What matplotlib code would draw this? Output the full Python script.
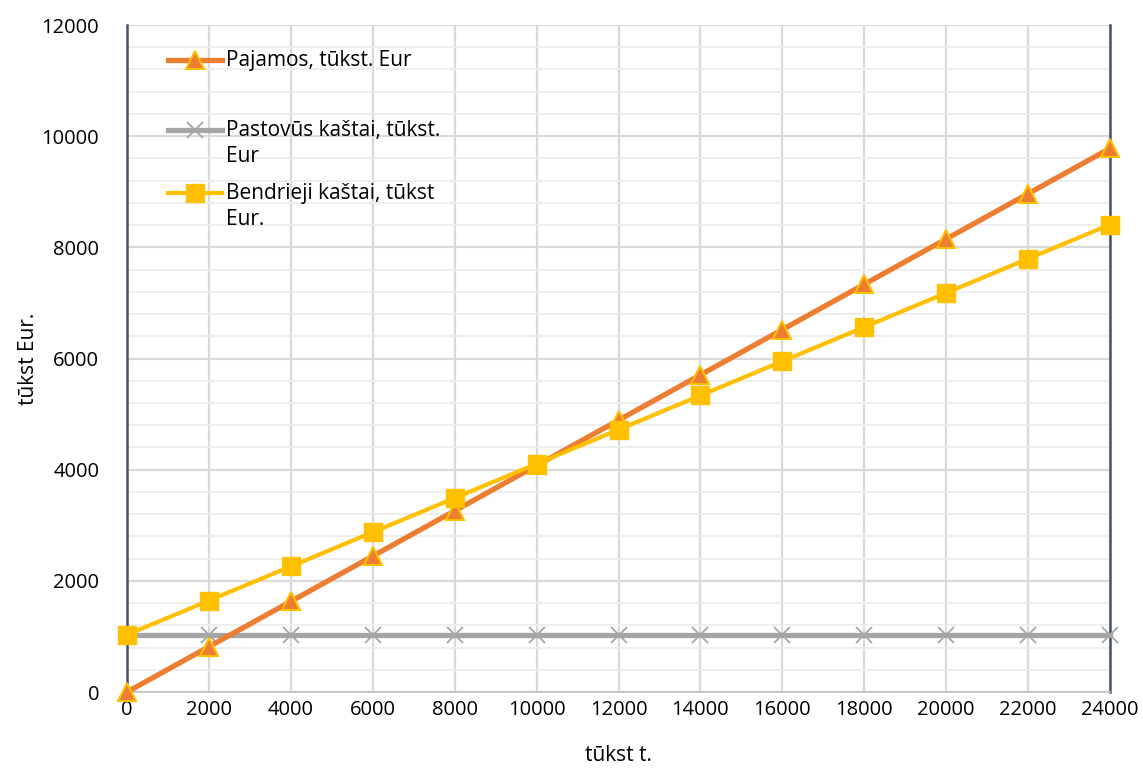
import matplotlib.pyplot as plt
from matplotlib.lines import Line2D
from matplotlib.ticker import MultipleLocator

plt.rcParams['font.family'] = ['Open Sans', 'DejaVu Sans']

# production volume, tūkst t.
volume = [0, 2000, 4000, 6000, 8000, 10000, 12000, 14000, 16000, 18000, 20000, 22000, 24000]
revenue = [0, 815, 1630, 2445, 3260, 4075, 4890, 5705, 6520, 7335, 8150, 8965, 9780]
fixed_costs = [1030] * 13
total_costs = [1030, 1645, 2260, 2875, 3490, 4105, 4720, 5335, 5950, 6565, 7180, 7795, 8410]

labels = [["Pajamos, tūkst. Eur"],
          ["Pastovūs kaštai, tūkst.", "Eur"],
          ["Bendrieji kaštai, tūkst", "Eur."]]

ORANGE = '#ED7D31'
GOLD = '#FFC000'
GRAY = '#A5A5A5'

W, H = 1143, 773
L, R, T, B = 127, 1110, 25, 692

fig = plt.figure(figsize=(W / 100, H / 100), dpi=100)
ax = fig.add_axes([L / W, 1 - B / H, (R - L) / W, (B - T) / H])

styles = [
    dict(color=ORANGE, lw=3.8, marker='^', ms=13.5, mfc=ORANGE, mec=GOLD, mew=1.5),
    dict(color=GRAY, lw=3.8, marker='x', ms=11, mew=1.3, mec=GRAY),
    dict(color=GOLD, lw=3.0, marker='s', ms=12.5, mfc=GOLD, mec=GOLD),
]

ax.plot(volume, fixed_costs, zorder=3, clip_on=False, **styles[1])
ax.plot(volume, revenue, zorder=4, clip_on=False, **styles[0])
ax.plot(volume, total_costs, zorder=5, clip_on=False, **styles[2])

ax.set_xlim(0, 24000)
ax.set_ylim(0, 12000)
ax.xaxis.set_major_locator(MultipleLocator(2000))
ax.yaxis.set_major_locator(MultipleLocator(2000))
ax.yaxis.set_minor_locator(MultipleLocator(400))
ax.grid(which='major', color='#D9D9D9', lw=1.6)
ax.grid(which='minor', axis='y', color='#EDEDED', lw=1.3)
ax.set_axisbelow(True)
ax.tick_params(which='both', length=0, labelsize=14.5, colors='black')
ax.tick_params(axis='x', pad=6)
ax.tick_params(axis='y', pad=20)

for side in ('left', 'right'):
    ax.spines[side].set_color('#44546A')
    ax.spines[side].set_linewidth(1.8)
ax.spines['bottom'].set_color('#BFBFBF')
ax.spines['bottom'].set_linewidth(1.2)
ax.spines['top'].set_visible(False)

ax.set_xlabel("tūkst t.", fontsize=15, labelpad=18)
ax.set_ylabel("tūkst Eur.", fontsize=15, labelpad=2)

# legend drawn by hand so the markers sit on the first line of each label
def to_axes(xp, yp):
    return (xp - L) / (R - L), 1 - (yp - T) / (B - T)

rows_px = [60, 130, 193]
for style, lines, y_px in zip(styles, labels, rows_px):
    x0, y = to_axes(168, y_px)
    x1, _ = to_axes(222, y_px)
    line_style = {k: v for k, v in style.items() if k in ('color', 'lw')}
    mark_style = {k: v for k, v in style.items() if k not in ('color', 'lw')}
    ax.add_line(Line2D([x0, x1], [y, y], transform=ax.transAxes, zorder=6,
                       clip_on=False, **line_style))
    ax.add_line(Line2D([(x0 + x1) / 2], [y], transform=ax.transAxes, zorder=7,
                       linestyle='none', clip_on=False, **mark_style))
    for i, text in enumerate(lines):
        tx, ty = to_axes(226, y_px + 26 * i)
        ax.text(tx, ty, text, transform=ax.transAxes, fontsize=15,
                va='center', ha='left')

fig.savefig('out.png', dpi=100)
